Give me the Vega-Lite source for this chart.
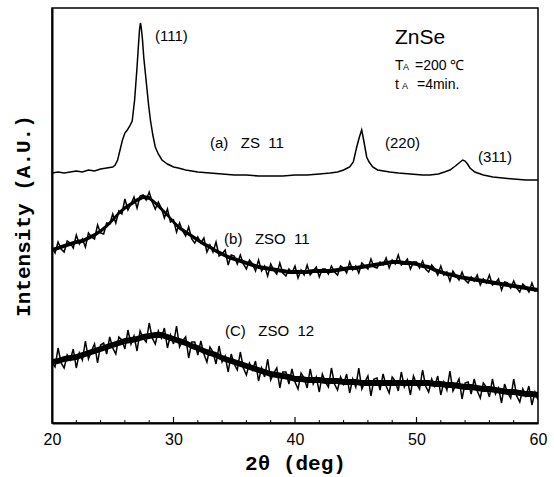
{
  "$schema": "https://vega.github.io/schema/vega-lite/v6.json",
  "width": 486,
  "height": 415,
  "autosize": {"type": "none"},
  "padding": {"left": 52, "top": 8, "right": 16, "bottom": 54},
  "background": "white",
  "config": {"view": {"stroke": "black", "strokeWidth": 1.5}, "font": "Liberation Sans"},
  "datasets": {
    "xrd": [
      {"s":"a","x":20,"y":250},{"s":"a","x":20.5,"y":251},{"s":"a","x":21,"y":250},{"s":"a","x":21.5,"y":251},{"s":"a","x":22,"y":252},{"s":"a","x":22.5,"y":251},{"s":"a","x":23,"y":253},{"s":"a","x":23.5,"y":252},{"s":"a","x":24,"y":254},{"s":"a","x":24.5,"y":255},{"s":"a","x":25,"y":256},{"s":"a","x":25.2,"y":258},{"s":"a","x":25.4,"y":263},{"s":"a","x":25.6,"y":273},{"s":"a","x":25.8,"y":283},{"s":"a","x":26,"y":290},{"s":"a","x":26.2,"y":293},{"s":"a","x":26.4,"y":297},{"s":"a","x":26.6,"y":302},{"s":"a","x":26.8,"y":323},{"s":"a","x":27,"y":356},{"s":"a","x":27.1,"y":375},{"s":"a","x":27.2,"y":393},{"s":"a","x":27.28,"y":400},{"s":"a","x":27.35,"y":395},{"s":"a","x":27.45,"y":383},{"s":"a","x":27.55,"y":366},{"s":"a","x":27.7,"y":348},{"s":"a","x":27.8,"y":336},{"s":"a","x":27.95,"y":318},{"s":"a","x":28.1,"y":303},{"s":"a","x":28.3,"y":288},{"s":"a","x":28.5,"y":276},{"s":"a","x":28.75,"y":269},{"s":"a","x":29.05,"y":263},{"s":"a","x":29.5,"y":259},{"s":"a","x":30,"y":256},{"s":"a","x":30.4,"y":255},{"s":"a","x":31,"y":253},{"s":"a","x":31.5,"y":252},{"s":"a","x":32,"y":251},{"s":"a","x":33,"y":250},{"s":"a","x":34,"y":249},{"s":"a","x":35,"y":248},{"s":"a","x":36,"y":248},{"s":"a","x":37,"y":247},{"s":"a","x":38,"y":247},{"s":"a","x":39,"y":247},{"s":"a","x":40,"y":248},{"s":"a","x":41,"y":248},{"s":"a","x":42,"y":249},{"s":"a","x":42.9,"y":250},{"s":"a","x":43.5,"y":251},{"s":"a","x":44,"y":253},{"s":"a","x":44.5,"y":256},{"s":"a","x":44.8,"y":261},{"s":"a","x":45.08,"y":276},{"s":"a","x":45.3,"y":286},{"s":"a","x":45.49,"y":293},{"s":"a","x":45.65,"y":283},{"s":"a","x":45.9,"y":266},{"s":"a","x":46.1,"y":261},{"s":"a","x":46.4,"y":256},{"s":"a","x":46.8,"y":253},{"s":"a","x":47.3,"y":252},{"s":"a","x":47.8,"y":251},{"s":"a","x":48.5,"y":250},{"s":"a","x":49.5,"y":249},{"s":"a","x":50.5,"y":248},{"s":"a","x":51.1,"y":248},{"s":"a","x":51.8,"y":249},{"s":"a","x":52.3,"y":251},{"s":"a","x":52.75,"y":253},{"s":"a","x":53.2,"y":257},{"s":"a","x":53.6,"y":261},{"s":"a","x":53.8,"y":263},{"s":"a","x":54,"y":262},{"s":"a","x":54.2,"y":259},{"s":"a","x":54.4,"y":255},{"s":"a","x":54.8,"y":251},{"s":"a","x":55.5,"y":248},{"s":"a","x":56.3,"y":246},{"s":"a","x":57.1,"y":245},{"s":"a","x":58,"y":244},{"s":"a","x":59,"y":243},{"s":"a","x":60,"y":243},
      {"s":"b","x":20,"y":176},{"s":"b","x":20.25,"y":170},{"s":"b","x":20.5,"y":181},{"s":"b","x":20.75,"y":174},{"s":"b","x":21,"y":171},{"s":"b","x":21.25,"y":182},{"s":"b","x":21.5,"y":180},{"s":"b","x":21.75,"y":175},{"s":"b","x":22,"y":188},{"s":"b","x":22.25,"y":179},
      {"s":"b","x":22.5,"y":184},{"s":"b","x":22.75,"y":176},{"s":"b","x":23,"y":190},{"s":"b","x":23.25,"y":186},{"s":"b","x":23.5,"y":184},{"s":"b","x":23.75,"y":198},{"s":"b","x":24,"y":190},{"s":"b","x":24.25,"y":189},{"s":"b","x":24.5,"y":200},{"s":"b","x":24.75,"y":199},
      {"s":"b","x":25,"y":209},{"s":"b","x":25.25,"y":200},{"s":"b","x":25.5,"y":212},{"s":"b","x":25.75,"y":209},{"s":"b","x":26,"y":224},{"s":"b","x":26.25,"y":213},{"s":"b","x":26.5,"y":219},{"s":"b","x":26.75,"y":226},{"s":"b","x":27,"y":215},{"s":"b","x":27.25,"y":227},
      {"s":"b","x":27.5,"y":228},{"s":"b","x":27.75,"y":223},{"s":"b","x":28,"y":231},{"s":"b","x":28.25,"y":221},{"s":"b","x":28.5,"y":214},{"s":"b","x":28.75,"y":221},{"s":"b","x":29,"y":215},{"s":"b","x":29.25,"y":205},{"s":"b","x":29.5,"y":214},{"s":"b","x":29.75,"y":201},
      {"s":"b","x":30,"y":203},{"s":"b","x":30.25,"y":191},{"s":"b","x":30.5,"y":200},{"s":"b","x":30.75,"y":192},{"s":"b","x":31,"y":187},{"s":"b","x":31.25,"y":196},{"s":"b","x":31.5,"y":184},{"s":"b","x":31.75,"y":180},{"s":"b","x":32,"y":186},{"s":"b","x":32.25,"y":180},
      {"s":"b","x":32.5,"y":185},{"s":"b","x":32.75,"y":171},{"s":"b","x":33,"y":178},{"s":"b","x":33.25,"y":171},{"s":"b","x":33.5,"y":181},{"s":"b","x":33.75,"y":167},{"s":"b","x":34,"y":169},{"s":"b","x":34.25,"y":173},{"s":"b","x":34.5,"y":158},{"s":"b","x":34.75,"y":168},
      {"s":"b","x":35,"y":167},{"s":"b","x":35.25,"y":159},{"s":"b","x":35.5,"y":168},{"s":"b","x":35.75,"y":159},{"s":"b","x":36,"y":154},{"s":"b","x":36.25,"y":163},{"s":"b","x":36.5,"y":159},{"s":"b","x":36.75,"y":152},{"s":"b","x":37,"y":163},{"s":"b","x":37.25,"y":152},
      {"s":"b","x":37.5,"y":157},{"s":"b","x":37.75,"y":147},{"s":"b","x":38,"y":159},{"s":"b","x":38.25,"y":153},{"s":"b","x":38.5,"y":149},{"s":"b","x":38.75,"y":160},{"s":"b","x":39,"y":150},{"s":"b","x":39.25,"y":147},{"s":"b","x":39.5,"y":154},{"s":"b","x":39.75,"y":150},
      {"s":"b","x":40,"y":157},{"s":"b","x":40.25,"y":145},{"s":"b","x":40.5,"y":153},{"s":"b","x":40.75,"y":148},{"s":"b","x":41,"y":158},{"s":"b","x":41.25,"y":148},{"s":"b","x":41.5,"y":152},{"s":"b","x":41.75,"y":156},{"s":"b","x":42,"y":146},{"s":"b","x":42.25,"y":154},
      {"s":"b","x":42.5,"y":154},{"s":"b","x":42.75,"y":149},{"s":"b","x":43,"y":157},{"s":"b","x":43.25,"y":151},{"s":"b","x":43.5,"y":148},{"s":"b","x":43.75,"y":157},{"s":"b","x":44,"y":155},{"s":"b","x":44.25,"y":150},{"s":"b","x":44.5,"y":161},{"s":"b","x":44.75,"y":153},
      {"s":"b","x":45,"y":157},{"s":"b","x":45.25,"y":150},{"s":"b","x":45.5,"y":160},{"s":"b","x":45.75,"y":157},{"s":"b","x":46,"y":154},{"s":"b","x":46.25,"y":164},{"s":"b","x":46.5,"y":156},{"s":"b","x":46.75,"y":155},{"s":"b","x":47,"y":161},{"s":"b","x":47.25,"y":158},
      {"s":"b","x":47.5,"y":165},{"s":"b","x":47.75,"y":155},{"s":"b","x":48,"y":163},{"s":"b","x":48.25,"y":159},{"s":"b","x":48.5,"y":168},{"s":"b","x":48.75,"y":158},{"s":"b","x":49,"y":160},{"s":"b","x":49.25,"y":164},{"s":"b","x":49.5,"y":154},{"s":"b","x":49.75,"y":161},
      {"s":"b","x":50,"y":161},{"s":"b","x":50.25,"y":155},{"s":"b","x":50.5,"y":162},{"s":"b","x":50.75,"y":154},{"s":"b","x":51,"y":151},{"s":"b","x":51.25,"y":158},{"s":"b","x":51.5,"y":154},{"s":"b","x":51.75,"y":148},{"s":"b","x":52,"y":157},{"s":"b","x":52.25,"y":148},
      {"s":"b","x":52.5,"y":151},{"s":"b","x":52.75,"y":142},{"s":"b","x":53,"y":152},{"s":"b","x":53.25,"y":147},{"s":"b","x":53.5,"y":143},{"s":"b","x":53.75,"y":151},{"s":"b","x":54,"y":143},{"s":"b","x":54.25,"y":140},{"s":"b","x":54.5,"y":146},{"s":"b","x":54.75,"y":142},
      {"s":"b","x":55,"y":148},{"s":"b","x":55.25,"y":138},{"s":"b","x":55.5,"y":144},{"s":"b","x":55.75,"y":140},{"s":"b","x":56,"y":148},{"s":"b","x":56.25,"y":138},{"s":"b","x":56.5,"y":140},{"s":"b","x":56.75,"y":144},{"s":"b","x":57,"y":133},{"s":"b","x":57.25,"y":141},
      {"s":"b","x":57.5,"y":140},{"s":"b","x":57.75,"y":135},{"s":"b","x":58,"y":142},{"s":"b","x":58.25,"y":135},{"s":"b","x":58.5,"y":131},{"s":"b","x":58.75,"y":139},{"s":"b","x":59,"y":136},{"s":"b","x":59.25,"y":131},{"s":"b","x":59.5,"y":140},{"s":"b","x":59.75,"y":132},{"s":"b","x":60,"y":134},
      {"s":"c","x":20,"y":60},{"s":"c","x":20.25,"y":56},{"s":"c","x":20.5,"y":75},{"s":"c","x":20.75,"y":60},{"s":"c","x":21,"y":55},{"s":"c","x":21.25,"y":68},{"s":"c","x":21.5,"y":63},{"s":"c","x":21.75,"y":74},{"s":"c","x":22,"y":55},{"s":"c","x":22.25,"y":70},
      {"s":"c","x":22.5,"y":63},{"s":"c","x":22.75,"y":82},{"s":"c","x":23,"y":64},{"s":"c","x":23.25,"y":72},{"s":"c","x":23.5,"y":79},{"s":"c","x":23.75,"y":60},{"s":"c","x":24,"y":78},{"s":"c","x":24.25,"y":80},{"s":"c","x":24.5,"y":69},{"s":"c","x":24.75,"y":86},
      {"s":"c","x":25,"y":75},{"s":"c","x":25.25,"y":69},{"s":"c","x":25.5,"y":86},{"s":"c","x":25.75,"y":83},{"s":"c","x":26,"y":74},{"s":"c","x":26.25,"y":93},{"s":"c","x":26.5,"y":79},{"s":"c","x":26.75,"y":87},{"s":"c","x":27,"y":72},{"s":"c","x":27.25,"y":92},
      {"s":"c","x":27.5,"y":85},{"s":"c","x":27.75,"y":81},{"s":"c","x":28,"y":100},{"s":"c","x":28.25,"y":85},{"s":"c","x":28.5,"y":79},{"s":"c","x":28.75,"y":92},{"s":"c","x":29,"y":85},{"s":"c","x":29.25,"y":95},{"s":"c","x":29.5,"y":75},{"s":"c","x":29.75,"y":88},
      {"s":"c","x":30,"y":79},{"s":"c","x":30.25,"y":97},{"s":"c","x":30.5,"y":76},{"s":"c","x":30.75,"y":82},{"s":"c","x":31,"y":86},{"s":"c","x":31.25,"y":65},{"s":"c","x":31.5,"y":81},{"s":"c","x":31.75,"y":81},{"s":"c","x":32,"y":68},{"s":"c","x":32.25,"y":82},
      {"s":"c","x":32.5,"y":69},{"s":"c","x":32.75,"y":61},{"s":"c","x":33,"y":76},{"s":"c","x":33.25,"y":71},{"s":"c","x":33.5,"y":59},{"s":"c","x":33.75,"y":77},{"s":"c","x":34,"y":61},{"s":"c","x":34.25,"y":67},{"s":"c","x":34.5,"y":51},{"s":"c","x":34.75,"y":69},
      {"s":"c","x":35,"y":59},{"s":"c","x":35.25,"y":53},{"s":"c","x":35.5,"y":71},{"s":"c","x":35.75,"y":55},{"s":"c","x":36,"y":48},{"s":"c","x":36.25,"y":60},{"s":"c","x":36.5,"y":53},{"s":"c","x":36.75,"y":62},{"s":"c","x":37,"y":42},{"s":"c","x":37.25,"y":55},
      {"s":"c","x":37.5,"y":46},{"s":"c","x":37.75,"y":64},{"s":"c","x":38,"y":43},{"s":"c","x":38.25,"y":50},{"s":"c","x":38.5,"y":55},{"s":"c","x":38.75,"y":35},{"s":"c","x":39,"y":51},{"s":"c","x":39.25,"y":51},{"s":"c","x":39.5,"y":39},{"s":"c","x":39.75,"y":54},
      {"s":"c","x":40,"y":41},{"s":"c","x":40.25,"y":34},{"s":"c","x":40.5,"y":50},{"s":"c","x":40.75,"y":45},{"s":"c","x":41,"y":35},{"s":"c","x":41.25,"y":54},{"s":"c","x":41.5,"y":39},{"s":"c","x":41.75,"y":46},{"s":"c","x":42,"y":31},{"s":"c","x":42.25,"y":49},
      {"s":"c","x":42.5,"y":41},{"s":"c","x":42.75,"y":36},{"s":"c","x":43,"y":55},{"s":"c","x":43.25,"y":39},{"s":"c","x":43.5,"y":33},{"s":"c","x":43.75,"y":46},{"s":"c","x":44,"y":39},{"s":"c","x":44.25,"y":49},{"s":"c","x":44.5,"y":30},{"s":"c","x":44.75,"y":44},
      {"s":"c","x":45,"y":36},{"s":"c","x":45.25,"y":55},{"s":"c","x":45.5,"y":34},{"s":"c","x":45.75,"y":41},{"s":"c","x":46,"y":47},{"s":"c","x":46.25,"y":27},{"s":"c","x":46.5,"y":44},{"s":"c","x":46.75,"y":45},{"s":"c","x":47,"y":33},{"s":"c","x":47.25,"y":49},
      {"s":"c","x":47.5,"y":37},{"s":"c","x":47.75,"y":30},{"s":"c","x":48,"y":46},{"s":"c","x":48.25,"y":42},{"s":"c","x":48.5,"y":32},{"s":"c","x":48.75,"y":51},{"s":"c","x":49,"y":36},{"s":"c","x":49.25,"y":43},{"s":"c","x":49.5,"y":28},{"s":"c","x":49.75,"y":47},
      {"s":"c","x":50,"y":39},{"s":"c","x":50.25,"y":34},{"s":"c","x":50.5,"y":53},{"s":"c","x":50.75,"y":37},{"s":"c","x":51,"y":31},{"s":"c","x":51.25,"y":44},{"s":"c","x":51.5,"y":37},{"s":"c","x":51.75,"y":47},{"s":"c","x":52,"y":28},{"s":"c","x":52.25,"y":41},
      {"s":"c","x":52.5,"y":33},{"s":"c","x":52.75,"y":52},{"s":"c","x":53,"y":32},{"s":"c","x":53.25,"y":38},{"s":"c","x":53.5,"y":44},{"s":"c","x":53.75,"y":24},{"s":"c","x":54,"y":40},{"s":"c","x":54.25,"y":41},{"s":"c","x":54.5,"y":29},{"s":"c","x":54.75,"y":44},
      {"s":"c","x":55,"y":32},{"s":"c","x":55.25,"y":25},{"s":"c","x":55.5,"y":40},{"s":"c","x":55.75,"y":36},{"s":"c","x":56,"y":26},{"s":"c","x":56.25,"y":44},{"s":"c","x":56.5,"y":29},{"s":"c","x":56.75,"y":35},{"s":"c","x":57,"y":20},{"s":"c","x":57.25,"y":39},
      {"s":"c","x":57.5,"y":30},{"s":"c","x":57.75,"y":25},{"s":"c","x":58,"y":44},{"s":"c","x":58.25,"y":27},{"s":"c","x":58.5,"y":21},{"s":"c","x":58.75,"y":34},{"s":"c","x":59,"y":27},{"s":"c","x":59.25,"y":37},{"s":"c","x":59.5,"y":18},{"s":"c","x":59.75,"y":31},{"s":"c","x":60,"y":23}
    ],
    "band": [
      {"s":"b","x":20,"lo":171,"hi":175},{"s":"b","x":20.5,"lo":173,"hi":177},{"s":"b","x":21,"lo":175,"hi":179},{"s":"b","x":21.5,"lo":177,"hi":181},{"s":"b","x":22,"lo":179,"hi":183},{"s":"b","x":22.5,"lo":180,"hi":184},{"s":"b","x":23,"lo":183,"hi":187},{"s":"b","x":23.5,"lo":186,"hi":190},{"s":"b","x":24,"lo":190,"hi":194},{"s":"b","x":24.5,"lo":195,"hi":199},
      {"s":"b","x":25,"lo":201,"hi":205},{"s":"b","x":25.5,"lo":208,"hi":212},{"s":"b","x":26,"lo":213,"hi":217},{"s":"b","x":26.5,"lo":217,"hi":221},{"s":"b","x":27,"lo":221,"hi":225},{"s":"b","x":27.5,"lo":224,"hi":228},{"s":"b","x":28,"lo":223,"hi":227},{"s":"b","x":28.5,"lo":218,"hi":222},{"s":"b","x":29,"lo":212,"hi":216},{"s":"b","x":29.5,"lo":206,"hi":210},
      {"s":"b","x":30,"lo":199,"hi":203},{"s":"b","x":30.5,"lo":193,"hi":197},{"s":"b","x":31,"lo":189,"hi":193},{"s":"b","x":31.5,"lo":185,"hi":189},{"s":"b","x":32,"lo":181,"hi":185},{"s":"b","x":32.5,"lo":177,"hi":181},{"s":"b","x":33,"lo":174,"hi":178},{"s":"b","x":33.5,"lo":170,"hi":174},{"s":"b","x":34,"lo":167,"hi":171},{"s":"b","x":34.5,"lo":164,"hi":168},
      {"s":"b","x":35,"lo":162,"hi":166},{"s":"b","x":35.5,"lo":160,"hi":164},{"s":"b","x":36,"lo":158,"hi":162},{"s":"b","x":36.5,"lo":156,"hi":160},{"s":"b","x":37,"lo":154,"hi":158},{"s":"b","x":37.5,"lo":153,"hi":157},{"s":"b","x":38,"lo":152,"hi":156},{"s":"b","x":38.5,"lo":151,"hi":155},{"s":"b","x":39,"lo":150,"hi":154},{"s":"b","x":39.5,"lo":149,"hi":153},
      {"s":"b","x":40,"lo":149,"hi":153},{"s":"b","x":40.5,"lo":149,"hi":153},{"s":"b","x":41,"lo":149,"hi":153},{"s":"b","x":41.5,"lo":150,"hi":154},{"s":"b","x":42,"lo":150,"hi":154},{"s":"b","x":42.5,"lo":150,"hi":154},{"s":"b","x":43,"lo":150,"hi":154},{"s":"b","x":43.5,"lo":151,"hi":155},{"s":"b","x":44,"lo":152,"hi":156},{"s":"b","x":44.5,"lo":153,"hi":157},
      {"s":"b","x":45,"lo":153,"hi":157},{"s":"b","x":45.5,"lo":154,"hi":158},{"s":"b","x":46,"lo":155,"hi":159},{"s":"b","x":46.5,"lo":156,"hi":160},{"s":"b","x":47,"lo":157,"hi":161},{"s":"b","x":47.5,"lo":158,"hi":162},{"s":"b","x":48,"lo":159,"hi":163},{"s":"b","x":48.5,"lo":159,"hi":163},{"s":"b","x":49,"lo":158,"hi":162},{"s":"b","x":49.5,"lo":158,"hi":162},
      {"s":"b","x":50,"lo":157,"hi":161},{"s":"b","x":50.5,"lo":155,"hi":159},{"s":"b","x":51,"lo":154,"hi":158},{"s":"b","x":51.5,"lo":151,"hi":155},{"s":"b","x":52,"lo":149,"hi":153},{"s":"b","x":52.5,"lo":147,"hi":151},{"s":"b","x":53,"lo":146,"hi":150},{"s":"b","x":53.5,"lo":144,"hi":148},{"s":"b","x":54,"lo":143,"hi":147},{"s":"b","x":54.5,"lo":142,"hi":146},
      {"s":"b","x":55,"lo":141,"hi":145},{"s":"b","x":55.5,"lo":140,"hi":144},{"s":"b","x":56,"lo":139,"hi":143},{"s":"b","x":56.5,"lo":138,"hi":142},{"s":"b","x":57,"lo":137,"hi":141},{"s":"b","x":57.5,"lo":136,"hi":140},{"s":"b","x":58,"lo":135,"hi":139},{"s":"b","x":58.5,"lo":134,"hi":138},{"s":"b","x":59,"lo":133,"hi":137},{"s":"b","x":59.5,"lo":132,"hi":136},{"s":"b","x":60,"lo":131,"hi":135},
      {"s":"c","x":20,"lo":58,"hi":64},{"s":"c","x":20.5,"lo":59,"hi":65},{"s":"c","x":21,"lo":61,"hi":67},{"s":"c","x":21.5,"lo":62,"hi":68},{"s":"c","x":22,"lo":63,"hi":69},{"s":"c","x":22.5,"lo":65,"hi":71},{"s":"c","x":23,"lo":67,"hi":73},{"s":"c","x":23.5,"lo":69,"hi":75},{"s":"c","x":24,"lo":71,"hi":77},{"s":"c","x":24.5,"lo":73,"hi":79},
      {"s":"c","x":25,"lo":75,"hi":81},{"s":"c","x":25.5,"lo":77,"hi":83},{"s":"c","x":26,"lo":79,"hi":85},{"s":"c","x":26.5,"lo":80,"hi":86},{"s":"c","x":27,"lo":81,"hi":87},{"s":"c","x":27.5,"lo":83,"hi":89},{"s":"c","x":28,"lo":84,"hi":90},{"s":"c","x":28.5,"lo":85,"hi":91},{"s":"c","x":29,"lo":85,"hi":91},{"s":"c","x":29.5,"lo":83,"hi":89},
      {"s":"c","x":30,"lo":81,"hi":87},{"s":"c","x":30.5,"lo":79,"hi":85},{"s":"c","x":31,"lo":77,"hi":83},{"s":"c","x":31.5,"lo":74,"hi":80},{"s":"c","x":32,"lo":72,"hi":78},{"s":"c","x":32.5,"lo":69,"hi":75},{"s":"c","x":33,"lo":67,"hi":73},{"s":"c","x":33.5,"lo":65,"hi":71},{"s":"c","x":34,"lo":62,"hi":68},{"s":"c","x":34.5,"lo":60,"hi":66},
      {"s":"c","x":35,"lo":58,"hi":64},{"s":"c","x":35.5,"lo":56,"hi":62},{"s":"c","x":36,"lo":54,"hi":60},{"s":"c","x":36.5,"lo":52,"hi":58},{"s":"c","x":37,"lo":50,"hi":56},{"s":"c","x":37.5,"lo":48,"hi":54},{"s":"c","x":38,"lo":46,"hi":52},{"s":"c","x":38.5,"lo":45,"hi":51},{"s":"c","x":39,"lo":44,"hi":50},{"s":"c","x":39.5,"lo":43,"hi":49},
      {"s":"c","x":40,"lo":41,"hi":47},{"s":"c","x":40.5,"lo":41,"hi":47},{"s":"c","x":41,"lo":40,"hi":46},{"s":"c","x":41.5,"lo":40,"hi":46},{"s":"c","x":42,"lo":40,"hi":46},{"s":"c","x":42.5,"lo":39,"hi":45},{"s":"c","x":43,"lo":39,"hi":45},{"s":"c","x":43.5,"lo":39,"hi":45},{"s":"c","x":44,"lo":38,"hi":44},{"s":"c","x":44.5,"lo":38,"hi":44},
      {"s":"c","x":45,"lo":38,"hi":44},{"s":"c","x":45.5,"lo":37,"hi":43},{"s":"c","x":46,"lo":37,"hi":43},{"s":"c","x":46.5,"lo":37,"hi":43},{"s":"c","x":47,"lo":37,"hi":43},{"s":"c","x":47.5,"lo":37,"hi":43},{"s":"c","x":48,"lo":37,"hi":43},{"s":"c","x":48.5,"lo":37,"hi":43},{"s":"c","x":49,"lo":37,"hi":43},{"s":"c","x":49.5,"lo":37,"hi":43},
      {"s":"c","x":50,"lo":37,"hi":43},{"s":"c","x":50.5,"lo":37,"hi":43},{"s":"c","x":51,"lo":37,"hi":43},{"s":"c","x":51.5,"lo":36,"hi":42},{"s":"c","x":52,"lo":36,"hi":42},{"s":"c","x":52.5,"lo":35,"hi":41},{"s":"c","x":53,"lo":35,"hi":41},{"s":"c","x":53.5,"lo":34,"hi":40},{"s":"c","x":54,"lo":33,"hi":39},{"s":"c","x":54.5,"lo":33,"hi":39},
      {"s":"c","x":55,"lo":32,"hi":38},{"s":"c","x":55.5,"lo":31,"hi":37},{"s":"c","x":56,"lo":31,"hi":37},{"s":"c","x":56.5,"lo":30,"hi":36},{"s":"c","x":57,"lo":29,"hi":35},{"s":"c","x":57.5,"lo":28,"hi":34},{"s":"c","x":58,"lo":28,"hi":34},{"s":"c","x":58.5,"lo":27,"hi":33},{"s":"c","x":59,"lo":26,"hi":32},{"s":"c","x":59.5,"lo":26,"hi":32},{"s":"c","x":60,"lo":25,"hi":31}
    ],
    "minorTicks": [
      {"x":22},{"x":24},{"x":26},{"x":28},{"x":32},{"x":34},{"x":36},{"x":38},{"x":42},{"x":44},{"x":46},{"x":48},{"x":52},{"x":54},{"x":56},{"x":58}
    ],
    "majorTicks": [
      {"x":30},{"x":40},{"x":50}
    ],
    "labels": [
      {"x":28.48,"y":387,"t":"(111)"},
      {"x":33.0,"y":280,"t":"(a)\u00a0\u00a0\u00a0ZS\u00a0\u00a011"},
      {"x":47.41,"y":280,"t":"(220)"},
      {"x":55.06,"y":266,"t":"(311)"},
      {"x":34.16,"y":184,"t":"(b)\u00a0\u00a0\u00a0ZSO\u00a0\u00a011"},
      {"x":34.24,"y":92,"t":"(C)\u00a0\u00a0\u00a0ZSO\u00a0\u00a012"}
    ],
    "params": [
      {"x":48.23,"y":353,"t":"T"},
      {"x":49.88,"y":353,"t":"=200 ℃"},
      {"x":48.23,"y":334,"t":"t"},
      {"x":50.04,"y":334,"t":"=4min."}
    ],
    "subs": [
      {"x":48.89,"y":353,"t":"A"},
      {"x":48.81,"y":334,"t":"A"}
    ],
    "heading": [
      {"x":48.23,"y":385,"t":"ZnSe"}
    ]
  },
  "layer": [
    {
      "data": {"name": "band"},
      "mark": {"type": "area", "color": "black", "opacity": 1, "clip": true},
      "encoding": {
        "x": {"field": "x", "type": "quantitative", "scale": {"domain": [20, 60], "nice": false}},
        "y": {"field": "lo", "type": "quantitative", "scale": {"domain": [0, 415], "nice": false}},
        "y2": {"field": "hi"},
        "detail": {"field": "s", "type": "nominal"}
      }
    },
    {
      "data": {"name": "xrd"},
      "mark": {"type": "line", "color": "black", "strokeWidth": 1.5, "clip": true},
      "encoding": {
        "x": {
          "field": "x", "type": "quantitative",
          "scale": {"domain": [20, 60], "nice": false},
          "axis": {
            "values": [20, 30, 40, 50, 60],
            "labelFlush": false,
            "labelOverlap": false,
            "grid": false,
            "domainColor": "black", "domainWidth": 2,
            "ticks": false,
            "labelFont": "Liberation Sans", "labelFontSize": 16, "labelColor": "black",
            "labelPadding": 8,
            "title": "2θ (deg)",
            "titleFont": "Liberation Mono", "titleFontWeight": "bold", "titleFontSize": 21, "titleColor": "black",
            "titlePadding": 5
          }
        },
        "y": {
          "field": "y", "type": "quantitative",
          "scale": {"domain": [0, 415], "nice": false},
          "axis": {
            "labels": false, "ticks": false, "grid": false,
            "domainColor": "black", "domainWidth": 2,
            "title": "Intensity (A.U.)",
            "titleFont": "Liberation Mono", "titleFontWeight": "bold", "titleFontSize": 21, "titleColor": "black",
            "titlePadding": 19
          }
        },
        "detail": {"field": "s", "type": "nominal"}
      }
    },
    {
      "data": {"name": "minorTicks"},
      "mark": {"type": "rule", "color": "black", "strokeWidth": 1},
      "encoding": {
        "x": {"field": "x", "type": "quantitative", "scale": {"domain": [20, 60], "nice": false}},
        "y": {"datum": 0, "type": "quantitative", "scale": {"domain": [0, 415], "nice": false}},
        "y2": {"datum": 3}
      }
    },
    {
      "data": {"name": "majorTicks"},
      "mark": {"type": "rule", "color": "black", "strokeWidth": 1.2},
      "encoding": {
        "x": {"field": "x", "type": "quantitative", "scale": {"domain": [20, 60], "nice": false}},
        "y": {"datum": 0, "type": "quantitative", "scale": {"domain": [0, 415], "nice": false}},
        "y2": {"datum": 6}
      }
    },
    {
      "data": {"name": "labels"},
      "mark": {"type": "text", "align": "left", "baseline": "middle", "fontSize": 15, "color": "black", "font": "Liberation Sans"},
      "encoding": {
        "x": {"field": "x", "type": "quantitative", "scale": {"domain": [20, 60], "nice": false}},
        "y": {"field": "y", "type": "quantitative", "scale": {"domain": [0, 415], "nice": false}},
        "text": {"field": "t"}
      }
    },
    {
      "data": {"name": "params"},
      "mark": {"type": "text", "align": "left", "baseline": "alphabetic", "fontSize": 14, "color": "black", "font": "Liberation Sans"},
      "encoding": {
        "x": {"field": "x", "type": "quantitative", "scale": {"domain": [20, 60], "nice": false}},
        "y": {"field": "y", "type": "quantitative", "scale": {"domain": [0, 415], "nice": false}},
        "text": {"field": "t"}
      }
    },
    {
      "data": {"name": "subs"},
      "mark": {"type": "text", "align": "left", "baseline": "alphabetic", "fontSize": 9, "color": "black", "font": "Liberation Sans"},
      "encoding": {
        "x": {"field": "x", "type": "quantitative", "scale": {"domain": [20, 60], "nice": false}},
        "y": {"field": "y", "type": "quantitative", "scale": {"domain": [0, 415], "nice": false}},
        "text": {"field": "t"}
      }
    },
    {
      "data": {"name": "heading"},
      "mark": {"type": "text", "align": "left", "baseline": "middle", "fontSize": 21, "color": "black", "font": "Liberation Sans"},
      "encoding": {
        "x": {"field": "x", "type": "quantitative", "scale": {"domain": [20, 60], "nice": false}},
        "y": {"field": "y", "type": "quantitative", "scale": {"domain": [0, 415], "nice": false}},
        "text": {"field": "t"}
      }
    }
  ]
}
